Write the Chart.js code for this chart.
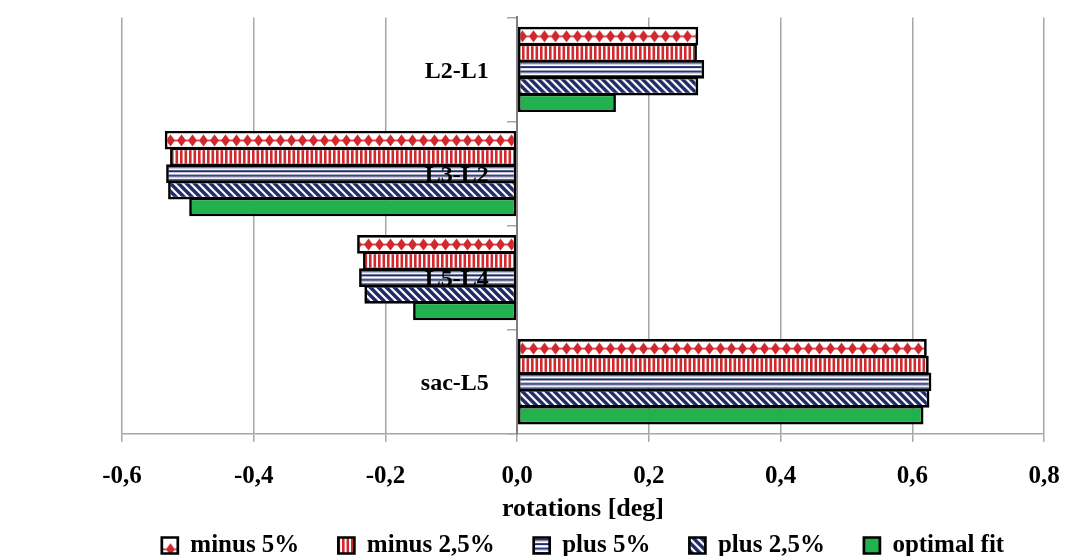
<!DOCTYPE html>
<html>
<head>
<meta charset="utf-8">
<script src="https://cdn.jsdelivr.net/npm/chart.js@4.4.0/dist/chart.umd.min.js"></script>
<style>
    html, body { margin: 0; padding: 0; background: #fff; }
    #wrap { width: 1065px; height: 556px; position: relative; }
</style>
</head>
<body>
<div id="wrap"><canvas id="chartRot"></canvas></div>
<script>
const categorias = ['L2-L1', 'L3-L2', 'L5-L4', 'sac-L5'];
const minus5 = [0.275, -0.535, -0.243, 0.622];
const minus25 = [0.273, -0.527, -0.234, 0.625];
const plus5 = [0.284, -0.533, -0.240, 0.629];
const plus25 = [0.275, -0.530, -0.232, 0.626];
const optimalFit = [0.150, -0.498, -0.158, 0.617];
const xTicks = [-0.6, -0.4, -0.2, 0.0, 0.2, 0.4, 0.6, 0.8];

const RED = '#d1282e';
const NAVY = '#1f2a6b';
const GREEN = '#22b14c';
const FONT = '"Liberation Serif", serif';
const CAT_PCT = 0.8;
const BAR_PCT = 1.12;
const N_SERIES = 5;
const LABEL_AT = -0.043;   // where the category names end, left of the zero line

function makeTile(w, h, draw) {
    const c = document.createElement('canvas');
    c.width = w;
    c.height = h;
    const g = c.getContext('2d');
    g.fillStyle = '#fff';
    g.fillRect(0, 0, w, h);
    draw(g, w, h);
    return c;
}

// tiles, h = bar thickness so the motif sits in the middle of each bar
const tiles = {
    diamonds: (h) => makeTile(11, h, (g, w, hh) => {
        const cy = hh / 2;
        g.fillStyle = RED;
        g.fillRect(0, cy - 0.8, w, 1.6);
        g.beginPath();
        g.moveTo(5.5, cy - 6);
        g.lineTo(10, cy);
        g.lineTo(5.5, cy + 6);
        g.lineTo(1, cy);
        g.closePath();
        g.fill();
    }),
    vstripes: (h) => makeTile(9, h, (g) => {
        g.fillStyle = RED;
        g.fillRect(0, 0, 2.6, h);
        g.fillRect(4.5, 0, 2.6, h);
    }),
    hstripes: (h) => makeTile(8, 9, (g) => {
        g.fillStyle = '#dfe1f0';
        g.fillRect(0, 4, 8, 1);
        g.fillStyle = NAVY;
        g.fillRect(0, 1.5, 8, 2);
        g.fillRect(0, 6, 8, 2);
    }),
    diag: (h) => makeTile(8, 8, (g) => {
        g.strokeStyle = NAVY;
        g.lineWidth = 3.4;
        g.beginPath();
        g.moveTo(-2, -2); g.lineTo(10, 10);
        g.moveTo(-10, -2); g.lineTo(2, 10);
        g.moveTo(6, -2); g.lineTo(18, 10);
        g.stroke();
    })
};

function barGeom(chart, index, dsIndex) {
    const y = chart.scales.y;
    const band = Math.abs(y.getPixelForValue(1) - y.getPixelForValue(0));
    const group = band * CAT_PCT;
    const slot = group / N_SERIES;
    const size = slot * BAR_PCT;
    const center = y.getPixelForValue(index) - group / 2 + slot * (dsIndex + 0.5);
    return { top: center - size / 2, size };
}

function patron(nombre) {
    return (ctx) => {
        const chart = ctx.chart;
        if (ctx.type !== 'data' || !chart.scales.y) {
            return chart.ctx.createPattern(tiles[nombre](16), 'repeat');
        }
        const geo = barGeom(chart, ctx.dataIndex, ctx.datasetIndex);
        const pat = chart.ctx.createPattern(tiles[nombre](Math.round(geo.size)), 'repeat');
        pat.setTransform(new DOMMatrix().translateSelf(0, geo.top));
        return pat;
    };
}

const barStyle = {
    borderColor: '#000',
    borderWidth: 2.7,
    borderSkipped: false,
    categoryPercentage: CAT_PCT,
    barPercentage: BAR_PCT
};

const chartRot = new Chart(document.getElementById('chartRot').getContext('2d'), {
    type: 'bar',
    data: {
        labels: categorias,
        datasets: [
            { label: 'minus 5%', data: minus5, backgroundColor: patron('diamonds'), ...barStyle },
            { label: 'minus 2,5%', data: minus25, backgroundColor: patron('vstripes'), ...barStyle },
            { label: 'plus 5%', data: plus5, backgroundColor: patron('hstripes'), ...barStyle },
            { label: 'plus 2,5%', data: plus25, backgroundColor: patron('diag'), ...barStyle },
            { label: 'optimal fit', data: optimalFit, backgroundColor: GREEN, ...barStyle }
        ]
    },
    options: {
        indexAxis: 'y',
        responsive: true,
        maintainAspectRatio: false,
        animation: false,
        layout: {
            padding: { top: 4, left: 122, right: 0, bottom: -12 }
        },
        plugins: {
            tooltip: { enabled: false },
            legend: {
                position: 'bottom',
                fullSize: false,
                labels: {
                    color: '#000',
                    boxWidth: 16,
                    boxHeight: 16,
                    padding: 39,
                    font: { family: FONT, size: 25, weight: 'bold' }
                }
            }
        },
        scales: {
            x: {
                min: -0.6,
                max: 0.8,
                afterBuildTicks: (scale) => {
                    scale.ticks = xTicks.map(v => ({ value: v }));
                },
                // the last label may run up to the canvas edge
                afterFit: (scale) => {
                    scale.paddingRight = 21;
                },
                ticks: {
                    color: '#000',
                    padding: 20,
                    font: { family: FONT, size: 25, weight: 'bold' },
                    callback: (v) => (Math.abs(v) < 1e-9 ? 0 : v).toFixed(1).replace('.', ',')
                },
                grid: {
                    color: '#a6a6a6',
                    lineWidth: 1.5,
                    tickLength: 8
                },
                border: { color: '#a6a6a6', width: 1.5 },
                title: {
                    display: true,
                    text: 'rotations [deg]',
                    color: '#000',
                    padding: { top: -18, bottom: -31 },
                    font: { family: FONT, size: 26, weight: 'bold' }
                }
            },
            // axis line + short ticks at x = 0
            y: {
                position: { x: 0 },
                offset: true,
                ticks: { display: false },
                grid: {
                    offset: true,
                    drawOnChartArea: false,
                    tickLength: 9,
                    color: '#a6a6a6',
                    lineWidth: 1.5,
                    z: 1
                },
                border: { color: '#7f7f7f', width: 2, z: 1 }
            },
            // category names, drawn over the bars
            yNombres: {
                type: 'category',
                axis: 'y',
                position: { x: LABEL_AT },
                offset: true,
                ticks: {
                    color: '#000',
                    autoSkip: false,
                    labelOffset: 2,
                    z: 2,
                    font: { family: FONT, size: 24, weight: 'bold' }
                },
                grid: { display: false },
                border: { display: false }
            }
        }
    }
});
</script>
</body>
</html>
